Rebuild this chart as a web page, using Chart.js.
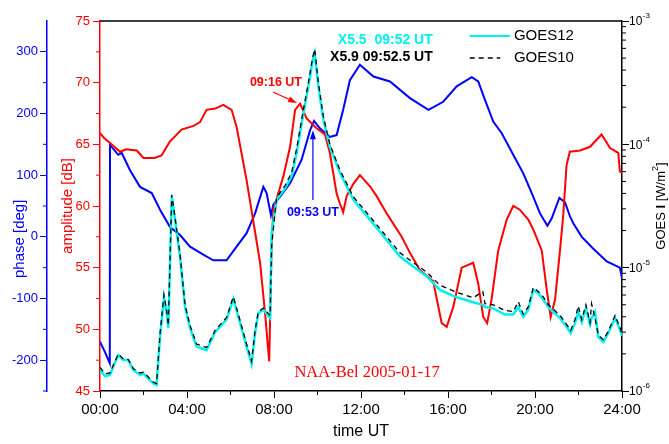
<!DOCTYPE html>
<html>
<head>
<meta charset="utf-8">
<script src="https://cdn.jsdelivr.net/npm/chart.js@4/dist/chart.umd.min.js"></script>
<style>
    html, body { margin: 0; padding: 0; background: #fff; }
</style>
</head>
<body>
<canvas id="chart" width="669" height="444"></canvas>
<script>
// --- Data ------------------------------------------------------------------

// VLF amplitude NAA-Bel (hours UT, dB)
const ampTime = [0, 0.2, 0.46, 0.92, 1.2, 1.69, 2.0, 2.5, 2.83, 3.2, 3.75, 4.3, 4.6, 4.9, 5.3,
    5.67, 6.05, 6.28, 6.74, 7.36, 7.59, 7.78, 7.89, 7.97, 8.43, 8.74, 8.97, 9.2, 9.5, 9.96,
    10.34, 10.57, 10.88, 11.03, 11.18, 11.34, 11.65, 11.95, 12.41, 12.72, 13.18, 13.87, 14.25, 14.71, 15.32,
    15.71, 15.94, 16.24, 16.63, 17.16, 17.39, 17.62, 17.8, 18.0, 18.31, 18.7, 19.0, 19.3, 19.69, 19.92,
    20.31, 20.54, 20.72, 20.92, 21.15, 21.3, 21.45, 21.6, 22.07, 22.53, 23.06, 23.45, 23.83, 23.9, 24];
const ampDb = [65.9, 65.5, 65.1, 64.4, 64.6, 64.5, 63.9, 63.9, 64.1, 65.2, 66.2, 66.5, 66.8, 67.8, 67.9,
    68.2, 67.8, 66.4, 62.1, 55.4, 51.3, 47.4, 56.7, 59.7, 62.4, 64.8, 67.8, 68.3, 67.1, 66.3,
    65.8, 64.3, 61.0, 60.2, 59.5, 60.8, 61.8, 62.5, 61.6, 60.8, 59.4, 57.5, 56.2, 54.8, 53.9,
    50.5, 50.2, 51.8, 55.0, 55.4, 53.7, 51.0, 50.5, 52.4, 56.4, 58.9, 60.0, 59.7, 58.9, 58.1,
    56.4, 53.2, 51.0, 52.4, 56.4, 59.3, 63.3, 64.4, 64.5, 64.8, 65.8, 64.7, 64.3, 62.8, 62.7];

// VLF phase (hours UT, deg)
const phaseTime = [0, 0.23, 0.45, 0.46, 0.84, 1.0, 1.38, 1.84, 2.38, 2.76, 3.22, 3.68, 4.14, 4.75, 5.21,
    5.82, 6.28, 6.74, 7.13, 7.51, 7.66, 7.86, 7.97, 8.28, 8.74, 9.27, 9.66, 9.84, 10.11, 10.57,
    10.88, 11.18, 11.49, 11.95, 12.57, 13.33, 14.25, 15.1, 15.78, 16.4, 17.09, 17.39, 17.7, 18.08, 18.47,
    19.0, 19.46, 19.85, 20.23, 20.57, 20.77, 21.12, 21.38, 21.61, 21.76, 22.15, 22.67, 23.3, 23.9, 24];
const phaseDeg = [-170, -187, -205, 149, 133, 136, 108, 81, 71, 44, 16, 3, -16, -29, -38,
    -38, -16, 6, 38, 81, 71, 35, 52, 65, 87, 125, 173, 188, 176, 162,
    165, 206, 254, 279, 260, 252, 225, 206, 219, 244, 259, 252, 222, 187, 168,
    133, 103, 71, 38, 18, 30, 63, 56, 33, 22, 0, -19, -40, -50, -67];

// GOES X-ray flux (hours UT, W/m2)
const goesTime = [0, 0.23, 0.46, 0.61, 0.84, 1.07, 1.3, 1.53, 1.84, 2.0, 2.22, 2.45, 2.6, 2.76, 2.94,
    3.07, 3.14, 3.3, 3.45, 3.68, 3.91, 4.14, 4.44, 4.9, 5.29, 5.82, 6.13, 6.36, 6.74, 6.97,
    7.13, 7.28, 7.51, 7.82, 7.89, 8.12, 8.5, 8.81, 9.04, 9.35, 9.58, 9.78, 9.87, 10.04, 10.27,
    10.57, 11.03, 11.65, 12.41, 13.1, 13.79, 14.4, 15.02, 15.63, 16.4, 17.16, 17.6, 17.7, 18.08, 18.39,
    18.62, 19.0, 19.23, 19.46, 19.69, 19.92, 20.15, 20.38, 20.61, 20.84, 21.15, 21.46, 21.64, 21.84, 21.99,
    22.15, 22.34, 22.53, 22.6, 22.76, 22.91, 23.14, 23.37, 23.68, 23.9, 24];
const goes12 = [1.48e-6, 1.32e-6, 1.35e-6, 1.58e-6, 1.95e-6, 1.78e-6, 1.78e-6, 1.48e-6, 1.35e-6, 1.38e-6,
    1.26e-6, 1.15e-6, 1.12e-6, 2.75e-6, 5.75e-6, 4.27e-6, 3.24e-6, 3.8e-5, 2.45e-5, 1.23e-5,
    4.8e-6, 3.24e-6, 2.29e-6, 2.14e-6, 3.0e-6, 3.8e-6, 5.6e-6, 4.0e-6, 2.29e-6, 1.66e-6,
    2.95e-6, 4.27e-6, 4.57e-6, 3.9e-6, 1.9e-5, 3.55e-5, 4.37e-5, 5.5e-5, 8.5e-5, 1.78e-4,
    2.95e-4, 4.8e-4, 5.5e-4, 2.95e-4, 1.58e-4, 9.5e-5, 5.9e-5, 3.55e-5, 2.45e-5, 1.74e-5,
    1.23e-5, 1.02e-5, 8.5e-6, 6.6e-6, 5.75e-6, 5.25e-6, 5.0e-6, 4.8e-6, 4.68e-6, 4.37e-6,
    4.17e-6, 4.17e-6, 4.8e-6, 4.0e-6, 4.57e-6, 6.6e-6, 6.2e-6, 5.5e-6, 4.8e-6, 4.37e-6,
    3.9e-6, 3.3e-6, 2.95e-6, 3.55e-6, 4.37e-6, 3.63e-6, 4.68e-6, 3.47e-6, 3.9e-6, 4.37e-6,
    2.75e-6, 2.5e-6, 2.95e-6, 3.9e-6, 3.16e-6, 2.8e-6];
const goes10 = [1.55e-6, 1.38e-6, 1.4e-6, 1.62e-6, 2.0e-6, 1.82e-6, 1.8e-6, 1.52e-6, 1.4e-6, 1.42e-6,
    1.3e-6, 1.18e-6, 1.15e-6, 2.9e-6, 6.0e-6, 4.4e-6, 3.4e-6, 3.9e-5, 2.55e-5, 1.28e-5,
    5.0e-6, 3.4e-6, 2.4e-6, 2.25e-6, 3.1e-6, 3.95e-6, 5.8e-6, 4.2e-6, 2.4e-6, 1.75e-6,
    3.1e-6, 4.4e-6, 4.7e-6, 4.1e-6, 1.5e-5, 3.7e-5, 4.6e-5, 5.9e-5, 9.2e-5, 1.9e-4,
    3.15e-4, 5.1e-4, 5.9e-4, 3.15e-4, 1.68e-4, 1.0e-4, 6.2e-5, 3.75e-5, 2.6e-5, 1.85e-5,
    1.32e-5, 1.1e-5, 9.2e-6, 7.2e-6, 6.3e-6, 5.7e-6, 6.4e-6, 5.1e-6, 5.0e-6, 4.7e-6,
    4.5e-6, 4.4e-6, 5.3e-6, 4.2e-6, 4.8e-6, 6.9e-6, 6.4e-6, 5.8e-6, 5.0e-6, 4.6e-6,
    4.1e-6, 3.45e-6, 3.1e-6, 3.8e-6, 4.9e-6, 3.8e-6, 5.0e-6, 3.6e-6, 5.1e-6, 3.9e-6,
    2.85e-6, 2.6e-6, 3.05e-6, 4.1e-6, 3.3e-6, 2.9e-6];

// Axes
const timeTicks = [0, 4, 8, 12, 16, 20, 24];
const timeMinor = [2, 6, 10, 14, 18, 22];
const ampTicks = [45, 50, 55, 60, 65, 70, 75];
const ampMinor = [47.5, 52.5, 57.5, 62.5, 67.5, 72.5];
const phaseTicks = [-200, -100, 0, 100, 200, 300];
const phaseMinor = [-250, -150, -50, 50, 150, 250];
const goesDecades = [-6, -5, -4, -3];

const RED = '#ff0000';
const BLUE = '#0000ff';
const CYAN = '#00f0f0';
const SANS = '"Liberation Sans", Arial, sans-serif';

const zip = (xs, ys) => xs.map((x, i) => ({ x: x, y: ys[i] }));
const hhmm = h => String(h).padStart(2, '0') + ':00';

// --- Decorations: minor ticks, frame, log labels, legend, annotations ------

function tick(ctx, x1, y1, x2, y2) {
    ctx.beginPath();
    ctx.moveTo(x1, y1);
    ctx.lineTo(x2, y2);
    ctx.stroke();
}

function arrow(ctx, x1, y1, x2, y2, color) {
    const ang = Math.atan2(y2 - y1, x2 - x1);
    const len = 9, half = 3;
    ctx.strokeStyle = color;
    ctx.fillStyle = color;
    ctx.lineWidth = 1.2;
    tick(ctx, x1, y1, x2 - Math.cos(ang) * len * 0.8, y2 - Math.sin(ang) * len * 0.8);
    ctx.beginPath();
    ctx.moveTo(x2, y2);
    ctx.lineTo(x2 - Math.cos(ang) * len - Math.sin(ang) * half, y2 - Math.sin(ang) * len + Math.cos(ang) * half);
    ctx.lineTo(x2 - Math.cos(ang) * len + Math.sin(ang) * half, y2 - Math.sin(ang) * len - Math.cos(ang) * half);
    ctx.closePath();
    ctx.fill();
}

// rotated text reading bottom to top, built from styled pieces
function upText(ctx, cx, cy, parts) {
    let total = 0;
    parts.forEach(p => { ctx.font = p[1]; total += ctx.measureText(p[0]).width; });
    ctx.save();
    ctx.translate(cx, cy);
    ctx.rotate(-Math.PI / 2);
    ctx.textAlign = 'left';
    ctx.textBaseline = 'middle';
    let px = -total / 2;
    parts.forEach(p => {
        ctx.font = p[1];
        ctx.fillText(p[0], px, p[2]);
        px += ctx.measureText(p[0]).width;
    });
    ctx.restore();
}

const decor = {
    id: 'decor',
    afterDraw(chart) {
        const ctx = chart.ctx;
        const a = chart.chartArea;
        const sx = chart.scales.x, sa = chart.scales.amp, sp = chart.scales.phase, sg = chart.scales.goes;
        const X = t => sx.getPixelForValue(t);
        const Y = v => sa.getPixelForValue(v);

        ctx.save();

        // top frame line
        ctx.strokeStyle = '#000';
        ctx.lineWidth = 1.5;
        tick(ctx, a.left, a.top, a.right, a.top);

        // minor ticks
        ctx.lineWidth = 1;
        timeMinor.forEach(t => tick(ctx, X(t), a.bottom, X(t), a.bottom + 4));
        ctx.strokeStyle = RED;
        ampMinor.forEach(v => tick(ctx, a.left - 4, Y(v), a.left, Y(v)));
        ctx.strokeStyle = BLUE;
        phaseMinor.forEach(v => {
            const y = sp.getPixelForValue(v);
            tick(ctx, sp.right - 4, y, sp.right, y);
        });
        ctx.strokeStyle = '#000';
        for (let d = -6; d < -3; d++) {
            for (let k = 2; k <= 9; k++) {
                const y = sg.getPixelForValue(k * Math.pow(10, d));
                tick(ctx, a.right, y, a.right + 4, y);
            }
        }

        // log labels 10^n
        ctx.fillStyle = '#000';
        ctx.textBaseline = 'middle';
        ctx.textAlign = 'left';
        goesDecades.forEach(d => {
            const y = sg.getPixelForValue(Math.pow(10, d));
            ctx.font = '12px ' + SANS;
            ctx.fillText('10', a.right + 7, y + 1);
            const w = ctx.measureText('10').width;
            ctx.font = '8px ' + SANS;
            ctx.fillText('-' + Math.abs(d), a.right + 7 + w + 0.5, y - 5);
        });

        // axis titles drawn by hand
        ctx.fillStyle = '#000';
        upText(ctx, 661, (a.top + a.bottom) / 2, [
            ['GOES ', '13px ' + SANS, 0],
            ['I', 'bold 13px ' + SANS, 0],
            [' [W/m', '13px ' + SANS, 0],
            ['2', '9px ' + SANS, -5],
            [']', '13px ' + SANS, 0]
        ]);
        ctx.fillStyle = BLUE;
        upText(ctx, 20, sp.getPixelForValue(0) + 2, [['phase [deg]', '15px ' + SANS, 0]]);

        // legend
        ctx.strokeStyle = CYAN;
        ctx.lineWidth = 2;
        tick(ctx, X(17.0), Y(73.78), X(18.85), Y(73.78));
        ctx.strokeStyle = '#000';
        ctx.lineWidth = 1.3;
        ctx.setLineDash([5, 4]);
        tick(ctx, X(17.0), Y(72.0), X(18.4), Y(72.0));
        ctx.setLineDash([]);
        ctx.textAlign = 'left';
        ctx.textBaseline = 'middle';
        ctx.font = '15px ' + SANS;
        ctx.fillStyle = '#000';
        ctx.fillText('GOES12', X(19.03), Y(73.78));
        ctx.fillText('GOES10', X(19.03), Y(72.0));

        // flare annotations
        ctx.textAlign = 'right';
        ctx.font = 'bold 14px ' + SANS;
        ctx.fillStyle = CYAN;
        ctx.fillText('X5.5  09:52 UT', X(15.3), Y(73.45));
        ctx.fillStyle = '#000';
        ctx.fillText('X5.9 09:52.5 UT', X(15.3), Y(72.08));

        ctx.textAlign = 'center';
        ctx.font = 'bold 12.5px ' + SANS;
        ctx.fillStyle = RED;
        ctx.fillText('09:16 UT', X(8.09), Y(70.05));
        arrow(ctx, X(7.95), Y(69.24), X(9.06), Y(68.35), RED);

        ctx.fillStyle = BLUE;
        ctx.fillText('09:53 UT', X(9.79), Y(59.43));
        arrow(ctx, X(9.79), Y(60.49), X(9.79), Y(66.15), BLUE);

        ctx.font = '16.5px "Liberation Serif", "Times New Roman", serif';
        ctx.fillStyle = RED;
        ctx.fillText('NAA-Bel 2005-01-17', X(12.28), Y(46.45));

        ctx.restore();
    }
};

// --- Chart -------------------------------------------------------------------

const ctx = document.getElementById('chart').getContext('2d');
const chart = new Chart(ctx, {
    type: 'line',
    data: {
        datasets: [
            {
                label: 'GOES10',
                data: zip(goesTime, goes10),
                yAxisID: 'goes',
                borderColor: '#000',
                borderWidth: 1.3,
                borderDash: [5, 4]
            },
            {
                label: 'GOES12',
                data: zip(goesTime, goes12),
                yAxisID: 'goes',
                borderColor: CYAN,
                borderWidth: 2.5
            },
            {
                label: 'amplitude',
                data: zip(ampTime, ampDb),
                yAxisID: 'amp',
                borderColor: RED,
                borderWidth: 2
            },
            {
                label: 'phase',
                data: zip(phaseTime, phaseDeg),
                yAxisID: 'phase',
                borderColor: BLUE,
                borderWidth: 2
            }
        ]
    },
    options: {
        responsive: false,
        animation: false,
        layout: { padding: { top: 21, left: 0, right: 0, bottom: 0 } },
        elements: {
            point: { radius: 0 },
            line: { tension: 0, fill: false }
        },
        plugins: {
            legend: { display: false },
            tooltip: { enabled: false }
        },
        scales: {
            x: {
                type: 'linear',
                position: 'bottom',
                min: 0,
                max: 24,
                afterBuildTicks: s => { s.ticks = timeTicks.map(v => ({ value: v })); },
                afterFit: s => { s.height = 53; },
                ticks: {
                    callback: v => hhmm(v),
                    autoSkip: false,
                    maxRotation: 0,
                    color: '#000',
                    padding: 3,
                    font: { size: 15, family: SANS }
                },
                grid: { drawOnChartArea: false, tickLength: 7, tickColor: '#000', tickWidth: 1 },
                border: { color: '#000', width: 1.5 },
                title: {
                    display: true,
                    text: 'time UT',
                    color: '#000',
                    font: { size: 16, family: SANS },
                    padding: { top: 0, bottom: 3 }
                }
            },
            amp: {
                type: 'linear',
                position: 'left',
                weight: 0,
                min: 45,
                max: 75,
                afterBuildTicks: s => { s.ticks = ampTicks.map(v => ({ value: v })); },
                afterFit: s => { s.width = 53; },
                ticks: {
                    color: RED,
                    padding: 3,
                    font: { size: 13, family: SANS }
                },
                grid: { drawOnChartArea: false, tickLength: 7, tickColor: RED },
                border: { color: RED, width: 1.5 },
                title: {
                    display: true,
                    text: 'amplitude [dB]',
                    color: RED,
                    font: { size: 15, family: SANS },
                    padding: { top: 11.5, bottom: 0 }
                }
            },
            phase: {
                type: 'linear',
                position: 'left',
                weight: 1,
                min: -250,
                max: 350,
                afterBuildTicks: s => { s.ticks = phaseTicks.map(v => ({ value: v })); },
                afterFit: s => { s.width = 47; },
                ticks: {
                    color: BLUE,
                    padding: 2,
                    font: { size: 13, family: SANS }
                },
                grid: { drawOnChartArea: false, tickLength: 7, tickColor: BLUE },
                border: { color: BLUE, width: 1.5 }
            },
            goes: {
                type: 'logarithmic',
                position: 'right',
                min: 1e-6,
                max: 1e-3,
                afterBuildTicks: s => { s.ticks = goesDecades.map(d => ({ value: Math.pow(10, d) })); },
                afterFit: s => { s.width = 47; },
                ticks: { display: false },
                grid: { drawOnChartArea: false, tickLength: 7, tickColor: '#000' },
                border: { color: '#000', width: 1.5 }
            }
        }
    },
    plugins: [decor]
});
</script>
</body>
</html>
